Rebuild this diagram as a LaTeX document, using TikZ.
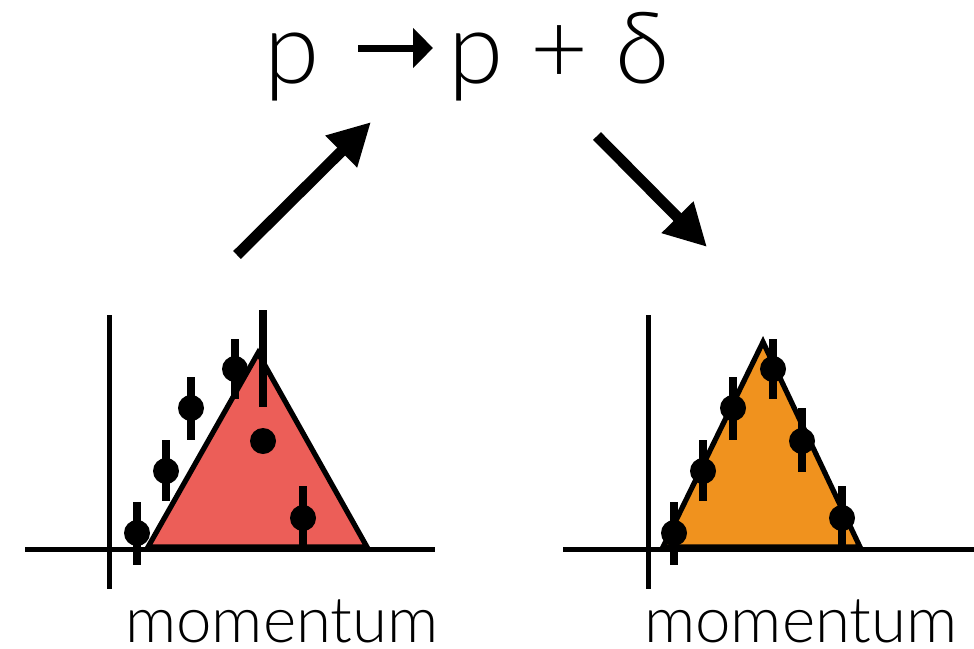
\documentclass[tikz,border=0pt]{standalone}
\usepackage{fontspec}
\setmainfont{Lato}[UprightFont=* Light]
\usepackage{xcolor}
\usepackage{tikz}
\usetikzlibrary{arrows.meta}
\definecolor{redfill}{HTML}{EC5E58}
\definecolor{orangefill}{HTML}{F0921E}
\tikzstyle{axis} = [line width=2.5pt]
\tikzstyle{peak} = [line width=2.6pt, line join=miter]
\tikzstyle{errbar} = [line width=4pt]
\tikzstyle{datadot} = [fill=black]
\tikzstyle{axislabel} = [inner sep=0pt, anchor=base, font=\fontsize{31.8}{38}\selectfont]
\tikzstyle{formula} = [inner sep=0pt, anchor=base, font=\fontsize{50}{60}\selectfont]
\tikzstyle{bigarrow} = [line width=5.5pt, -{Triangle[length=21pt, width=21pt]}]
\tikzstyle{smallarrow} = [line width=3.5pt, -{Triangle[length=10pt, width=19.5pt]}]

\begin{document}
\begin{tikzpicture}[x=0.5pt, y=-0.5pt]
\useasboundingbox (0,0) rectangle (974,648);
\node (pin) [formula] at (292,83) {p};
\node (pout) [formula] at (559,83) {p + δ};
\coordinate (ta) at (358,48);
\coordinate (tb) at (433,48);
\draw [smallarrow] (ta) -- (tb);
\coordinate (lfrom) at (237,255);
\coordinate (lto) at (371,122);
\coordinate (rfrom) at (597,136);
\coordinate (rto) at (707,247);
\draw [bigarrow] (lfrom) -- (lto);
\draw [bigarrow] (rfrom) -- (rto);
\draw [axis] (109,315) -- (109,589);
\draw [axis] (25,549) -- (435,549);
\draw [peak, fill=redfill] (148,547) -- (258,353) -- (367,547) -- cycle;
\foreach \x/\lo/\hi/\d in {137/502/565/533, 166/440/501/471, 191/377/440/408, 235/339/399/369, 263/310/407/441, 303/486/545/518} {
  \draw [errbar] (\x,\lo) -- (\x,\hi);
  \fill [datadot] (\x,\d) circle (6.5pt);
}
\node (lmom) [axislabel] at (282,642) {momentum};
\draw [axis] (648,315) -- (648,589);
\draw [axis] (563,549) -- (974,549);
\draw [peak, fill=orangefill] (663,547) -- (763,342) -- (860,547) -- cycle;
\foreach \x/\lo/\hi/\d in {674/502/565/533, 703/440/501/471, 733/377/440/408, 773/339/399/369, 802/408/472/441, 842/486/545/518} {
  \draw [errbar] (\x,\lo) -- (\x,\hi);
  \fill [datadot] (\x,\d) circle (6.5pt);
}
\node (rmom) [axislabel] at (801,642) {momentum};
\end{tikzpicture}
\end{document}
